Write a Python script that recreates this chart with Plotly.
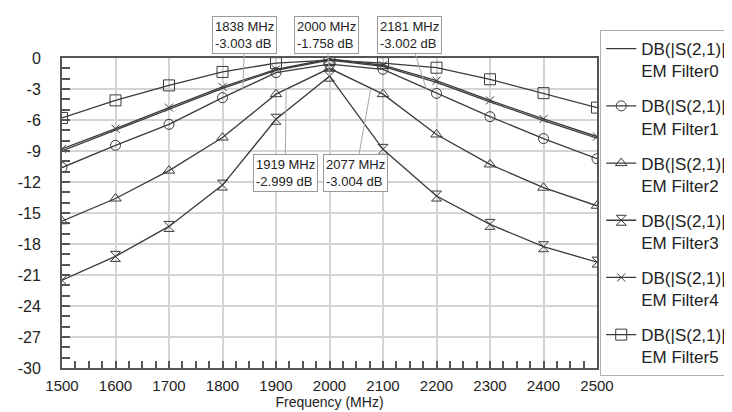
import plotly.graph_objects as go

freq = [1500, 1600, 1700, 1800, 1900, 2000, 2100, 2200, 2300, 2400, 2500]

filter0 = [-9.0, -7.0, -4.95, -2.95, -1.2, -0.2, -0.8, -2.35, -4.25, -6.05, -7.75]
filter1 = [-10.6, -8.45, -6.42, -3.84, -1.42, -0.6, -1.1, -3.42, -5.68, -7.8, -9.75]
filter2 = [-15.8, -13.6, -10.9, -7.7, -3.5, -1.0, -3.5, -7.4, -10.3, -12.55, -14.3]
filter3 = [-21.5, -19.2, -16.3, -12.3, -5.93, -1.758, -8.84, -13.36, -16.1, -18.26, -19.75]
filter4 = [-8.8, -6.84, -4.8, -2.8, -1.1, -0.1, -0.7, -2.2, -4.1, -5.9, -7.6]
filter5 = [-5.8, -4.1, -2.65, -1.35, -0.5, -0.2, -0.5, -0.94, -2.06, -3.4, -4.8]

series_values = [filter0, filter1, filter2, filter3, filter4, filter5]
series_names = ["DB(|S(2,1)|)<br>EM Filter0", "DB(|S(2,1)|)<br>EM Filter1",
                "DB(|S(2,1)|)<br>EM Filter2", "DB(|S(2,1)|)<br>EM Filter3",
                "DB(|S(2,1)|)<br>EM Filter4", "DB(|S(2,1)|)<br>EM Filter5"]
series_symbols = [None, "circle-open", "triangle-up-open", "hourglass-open",
                  "x-thin-open", "square-open"]
series_sizes = [0, 10, 10, 10, 8, 11]

x_ticks = [1500, 1600, 1700, 1800, 1900, 2000, 2100, 2200, 2300, 2400, 2500]
x_ticklabels = [str(v) for v in x_ticks]
y_ticks = [0, -3, -6, -9, -12, -15, -18, -21, -24, -27, -30]
y_ticklabels = ["0", "-3", "-6", "-9", "-12", "-15", "-18", "-21", "-24", "-27", "-30"]

marker_freq = [1838, 2000, 2181, 1919, 2077]
marker_db = [-3.003, -1.758, -3.002, -2.999, -3.004]
marker_text = ["1838 MHz<br>-3.003 dB", "2000 MHz<br>-1.758 dB", "2181 MHz<br>-3.002 dB",
               "1919 MHz<br>-2.999 dB", "2077 MHz<br>-3.004 dB"]
marker_ax = [2, -3, -17, -1, -15]
marker_ay = [-54, -41, -54, 84, 84]

LINE = "#3a3a3a"
FONT = "Liberation Sans, Arial, sans-serif"

fig = go.Figure()
for i, (vals, name, sym, sz) in enumerate(zip(series_values, series_names, series_symbols, series_sizes)):
    if sym is None:
        mode = "lines"
        marker = None
    else:
        mode = "lines+markers"
        marker = dict(symbol=sym, size=sz, color=LINE, line=dict(color=LINE, width=1))
    fig.add_trace(go.Scatter(
        x=freq, y=vals, name=name, mode=mode, marker=marker,
        line=dict(color=LINE, width=1.3), legendgroup=f"g{i}",
    ))

for f, d, t, ax, ay in zip(marker_freq, marker_db, marker_text, marker_ax, marker_ay):
    fig.add_annotation(
        x=f, y=d, text=t, showarrow=True, arrowhead=0, arrowwidth=1,
        arrowcolor="#a8a8a8", ax=ax, ay=ay, bgcolor="white",
        bordercolor="#9a9a9a", borderwidth=1, borderpad=2,
        font=dict(family=FONT, size=13, color="#222"), align="left",
    )

fig.update_layout(
    width=732, height=412,
    margin=dict(l=54, r=143, t=50, b=52, autoexpand=False),
    paper_bgcolor="white", plot_bgcolor="white",
    font=dict(family=FONT, color="#222"),
    showlegend=True,
    legend=dict(
        x=1.006, y=1.09, xanchor="left", yanchor="top",
        bordercolor="#b0b0b0", borderwidth=1, bgcolor="white",
        font=dict(family=FONT, size=17, color="#222"),
        tracegroupgap=10, valign="top", maxheight=1000,
    ),
    xaxis=dict(
        range=[1500, 2500], tickvals=x_ticks, ticktext=x_ticklabels,
        showgrid=True, gridcolor="#d4d4d4", gridwidth=1.5,
        showline=True, linecolor="#555", linewidth=2, mirror=True,
        ticks="inside", ticklen=0, tickfont=dict(size=15),
        ticklabelstandoff=3,
        minor=dict(dtick=25, ticks="inside", ticklen=7, tickcolor="#555", tickwidth=1.5, showgrid=False),
        title=dict(text="Frequency (MHz)", font=dict(size=14), standoff=0),
        zeroline=False,
    ),
    yaxis=dict(
        range=[-30, 0], tickvals=y_ticks, ticktext=y_ticklabels,
        showgrid=True, gridcolor="#d4d4d4", gridwidth=1.5,
        showline=True, linecolor="#555", linewidth=2, mirror=True,
        ticks="inside", ticklen=0, tickfont=dict(size=16),
        ticklabelstandoff=16,
        minor=dict(dtick=1, ticks="inside", ticklen=8, tickcolor="#555", tickwidth=1.5, showgrid=False),
        zeroline=False,
    ),
)

fig.write_html("out.html")
